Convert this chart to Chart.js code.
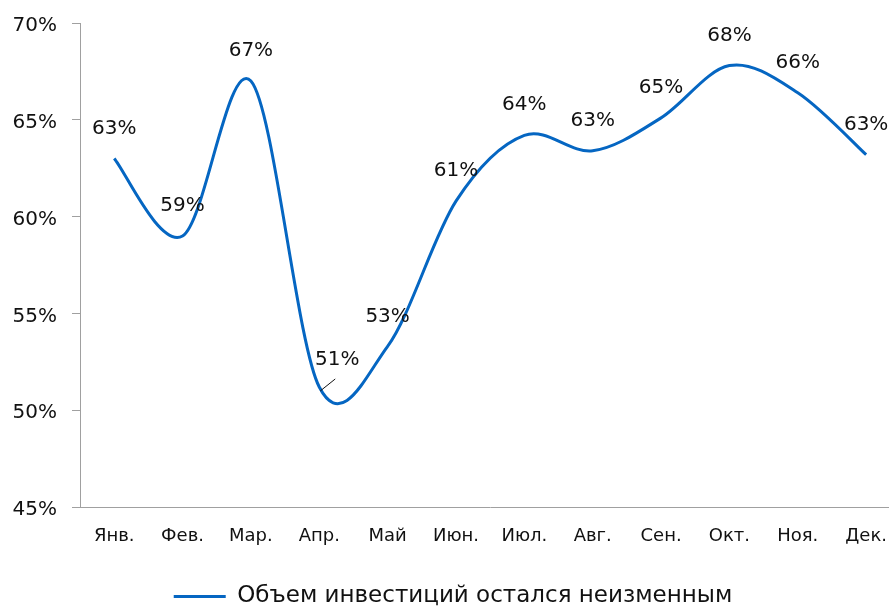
<!DOCTYPE html>
<html>
<head>
<meta charset="utf-8">
<script src="https://cdn.jsdelivr.net/npm/chart.js@4.4.1/dist/chart.umd.min.js"></script>
<style>
  html, body { margin: 0; padding: 0; background: #fff; overflow: hidden; }
  #wrap { width: 906px; height: 606px; }
</style>
</head>
<body>
<div id="wrap"><canvas id="c" width="906" height="606"></canvas></div>
<script>
const categories = ['Янв.', 'Фев.', 'Мар.', 'Апр.', 'Май', 'Июн.', 'Июл.', 'Авг.', 'Сен.', 'Окт.', 'Ноя.', 'Дек.'];
const unchangedShare = [63.0, 59.0, 67.0, 51.2, 53.3, 60.8, 64.2, 63.4, 65.1, 67.8, 66.4, 63.2];
const pointLabels = ['63%', '59%', '67%', '51%', '53%', '61%', '64%', '63%', '65%', '68%', '66%', '63%'];
const seriesName = 'Объем инвестиций остался неизменным';
const yTicks = [45, 50, 55, 60, 65, 70];

const FONT = 'DejaVu Sans';
const AXIS_COLOR = '#a0a0a0';
const LINE_COLOR = '#0566c2';

// Excel-style smoothing: uniform Catmull-Rom control points from the scaled points
const smoothPlugin = {
  id: 'excelSmooth',
  beforeDatasetsDraw(chart) {
    const meta = chart.getDatasetMeta(0);
    const pts = meta.data;
    const k = 1 / 6;
    for (let i = 0; i < pts.length; i++) {
      const p = pts[i];
      const prev = pts[i - 1] || p;
      const next = pts[i + 1] || p;
      const tx = (next.x - prev.x) * k;
      const ty = (next.y - prev.y) * k;
      p.cp1x = p.x - tx; p.cp1y = p.y - ty;
      p.cp2x = p.x + tx; p.cp2y = p.y + ty;
    }
    meta.dataset._pointsUpdated = true;
  }
};

const labelPlugin = {
  id: 'pointLabels',
  afterDatasetsDraw(chart, args, opts) {
    const ctx = chart.ctx;
    const meta = chart.getDatasetMeta(0);
    ctx.save();
    ctx.font = '20px "' + FONT + '"';
    ctx.fillStyle = '#111';
    ctx.textAlign = 'center';
    ctx.textBaseline = 'middle';
    meta.data.forEach((pt, i) => {
      const sp = (opts.special || {})[i];
      const dx = sp ? sp.dx : 0;
      const dy = sp ? sp.dy : opts.offset;
      ctx.fillText(pointLabels[i], pt.x + dx, pt.y + dy);
      if (sp && sp.leader) {
        ctx.strokeStyle = '#111';
        ctx.lineWidth = 1;
        ctx.beginPath();
        ctx.moveTo(pt.x + 1, pt.y + 4);
        ctx.lineTo(pt.x + 16, pt.y - 8);
        ctx.stroke();
      }
    });
    ctx.restore();
  }
};

new Chart(document.getElementById('c'), {
  type: 'line',
  data: {
    labels: categories,
    datasets: [{
      label: seriesName,
      data: unchangedShare,
      borderColor: LINE_COLOR,
      backgroundColor: LINE_COLOR,
      borderWidth: 3,
      pointRadius: 0,
      pointHoverRadius: 0,
      tension: 0.4,
      capBezierPoints: false,
      fill: false
    }]
  },
  options: {
    responsive: false,
    animation: false,
    devicePixelRatio: 1,
    layout: { padding: { top: 23, left: 0, right: 0, bottom: -12 } },
    plugins: {
      tooltip: { enabled: false },
      pointLabels: { offset: -30, special: { 3: { dx: 18, dy: -27, leader: true } } },
      legend: {
        position: 'bottom',
        labels: {
          font: { family: FONT, size: 23 },
          color: '#111',
          usePointStyle: true,
          pointStyle: 'line',
          pointStyleWidth: 52,
          boxHeight: 20,
          padding: 4
        }
      }
    },
    scales: {
      x: {
        offset: true,
        grid: { display: true, drawOnChartArea: false, drawTicks: false },
        border: { color: AXIS_COLOR, width: 1 },
        ticks: { font: { family: FONT, size: 18 }, color: '#111', padding: 19, maxRotation: 0, autoSkip: false },
        afterFit(scale) { scale.height = 74; }
      },
      y: {
        min: 45,
        max: 70,
        afterBuildTicks(scale) { scale.ticks = yTicks.map(v => ({ value: v })); },
        grid: { display: true, drawOnChartArea: false, drawTicks: true, tickLength: 8, color: AXIS_COLOR },
        border: { color: AXIS_COLOR, width: 1 },
        ticks: { font: { family: FONT, size: 20, lineHeight: 0.6 }, color: '#111', padding: 15, labelOffset: 3, callback: v => v + '%' },
        afterFit(scale) { scale.width = 80; }
      }
    }
  },
  plugins: [smoothPlugin, labelPlugin]
});
</script>
</body>
</html>
